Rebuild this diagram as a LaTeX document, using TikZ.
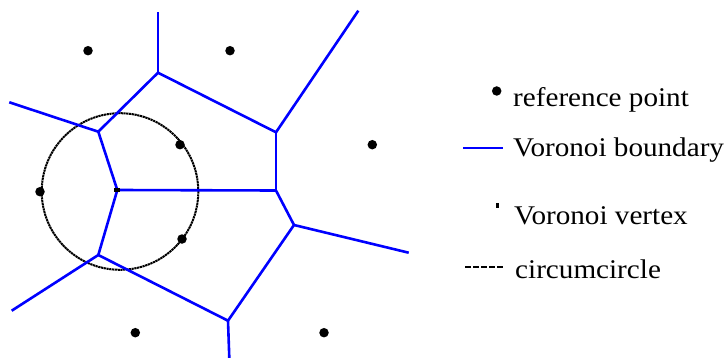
\documentclass[tikz,border=0pt]{standalone}
\usepackage{fontspec}
\setmainfont{Liberation Serif}
\begin{document}
\begin{tikzpicture}[x=1pt,y=-1pt,
  vor/.style={draw={rgb,255:red,0;green,0;blue,255},line width=2.6pt},
  refpt/.style={circle,fill=black,inner sep=0pt,minimum size=9.5pt},
  vvert/.style={rectangle,fill=black,inner sep=0pt,minimum width=6pt,minimum height=4.5pt},
  circ/.style={draw=black,line width=2pt,dash pattern=on 2.2pt off 0.6pt},
  legtext/.style={anchor=base west,inner sep=0pt,font=\fontsize{27}{32}\selectfont}]
\useasboundingbox (0,0) rectangle (727,358);
% Voronoi vertices
\coordinate (v1) at (158,72.7);
\coordinate (v2) at (98.3,131.7);
\coordinate (v3) at (117.3,190);
\coordinate (v4) at (98.3,255);
\coordinate (v5) at (276,132.3);
\coordinate (v6) at (276,190.5);
\coordinate (v7) at (294,225);
\coordinate (v8) at (228,320.7);
% open ends
\coordinate (e1) at (158,12);
\coordinate (e5) at (358.3,10.7);
\coordinate (e2) at (9.3,102.3);
\coordinate (e4) at (11.7,310.7);
\coordinate (e7) at (408.7,252.7);
\coordinate (e8) at (229.3,358);
% circumcircle
\draw[circ] (120,191.5) circle (78.3);
% boundaries
\draw[vor] (v1) -- (v2);
\draw[vor] (v1) -- (v5);
\draw[vor] (v2) -- (v3);
\draw[vor] (v3) -- (v4);
\draw[vor] (v3) -- (v6);
\draw[vor] (v5) -- (v6);
\draw[vor] (v6) -- (v7);
\draw[vor] (v7) -- (v8);
\draw[vor] (v4) -- (v8);
\draw[vor] (v1) -- (e1);
\draw[vor] (v5) -- (e5);
\draw[vor] (v2) -- (e2);
\draw[vor] (v4) -- (e4);
\draw[vor] (v7) -- (e7);
\draw[vor] (v8) -- (e8);
% Voronoi vertex mark
\node[vvert] (vv) at (v3) {};
% reference points
\node[refpt] (p1) at (88,50.7) {};
\node[refpt] (p2) at (230,50.7) {};
\node[refpt] (p3) at (372.3,144.7) {};
\node[refpt] (p4) at (180,144.7) {};
\node[refpt] (p5) at (40,191.7) {};
\node[refpt] (p6) at (182,239) {};
\node[refpt] (p7) at (135.3,332.7) {};
\node[refpt] (p8) at (324,332.7) {};
% legend
\node[circle,fill=black,inner sep=0pt,minimum size=9.5pt] (lp) at (496.7,91) {};
\node[legtext] (lt1) at (513,107) {\scalebox{1.08}[1]{reference point}};
\coordinate (lb1) at (463.3,148.3);
\coordinate (lb2) at (502.7,148.3);
\draw[draw={rgb,255:red,0;green,0;blue,255},line width=1.8pt] (lb1) -- (lb2);
\node[legtext] (lt2) at (513,156.7) {\scalebox{1.08}[1]{Voronoi boundary}};
\node[rectangle,fill=black,inner sep=0pt,minimum width=3.5pt,minimum height=5pt] (lv) at (497.3,205) {};
\node[legtext] (lt3) at (514,224) {\scalebox{1.08}[1]{Voronoi vertex}};
\coordinate (lc1) at (465,267);
\coordinate (lc2) at (503.3,267);
\draw[black,line width=1.4pt,dash pattern=on 6pt off 2pt] (lc1) -- (lc2);
\node[legtext] (lt4) at (515,278) {\scalebox{1.08}[1]{circumcircle}};
\end{tikzpicture}
\end{document}
